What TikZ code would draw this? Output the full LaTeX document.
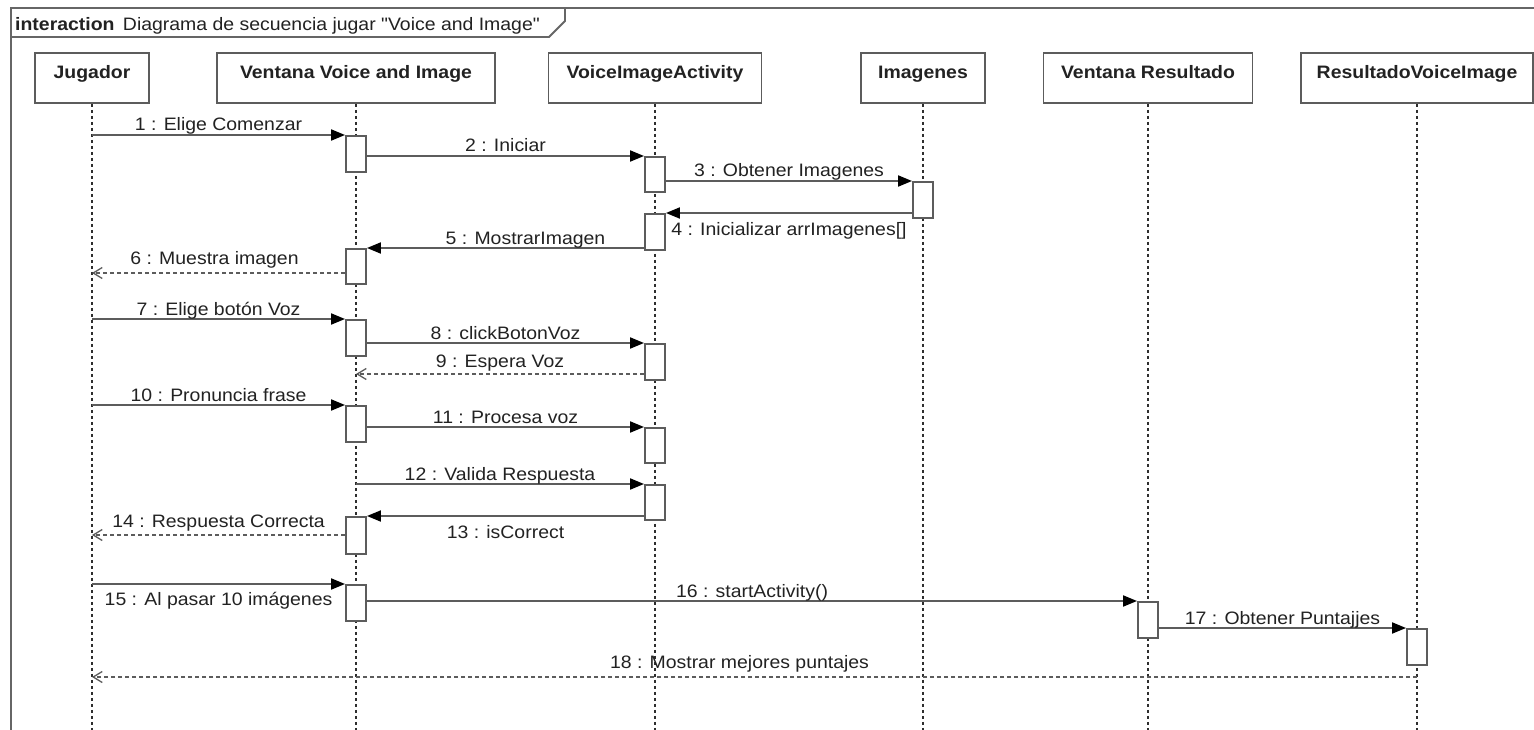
\documentclass[tikz,border=0pt]{standalone}
\usepackage{fontspec}
\setmainfont{Liberation Sans}[FakeStretch=1.08, Ligatures=TeXOff]
\usetikzlibrary{arrows.meta,calc}
\definecolor{linegray}{HTML}{5C5C5C}
\definecolor{textgray}{HTML}{222222}
\definecolor{lifegray}{HTML}{2E2E2E}
\definecolor{framegray}{HTML}{666666}

\begin{document}
\begin{tikzpicture}[x=1pt,y=-1pt,
  font=\fontsize{18}{21}\selectfont,
  every node/.style={text=textgray},
  head/.style={draw=linegray, line width=1.9pt, fill=white, inner xsep=0pt,
    inner ysep=7pt, text height=19pt, text depth=17pt,
    font=\fontsize{18}{21}\selectfont\bfseries},
  act/.style={draw=linegray, line width=1.9pt, fill=white, minimum width=20pt,
    inner sep=0pt, anchor=north},
  life/.style={draw=lifegray, line width=1.2pt, dash pattern=on 3pt off 3pt},
  call/.style={draw=linegray, line width=1.9pt,
    -{Triangle[length=14pt,width=11pt,color=black]}},
  reply/.style={draw=linegray, line width=1.6pt, dash pattern=on 4pt off 3pt,
    -{Straight Barb[length=9pt,width=11pt,line width=1.3pt]}},
  lbl/.style={anchor=base, inner sep=0pt},
  frameline/.style={draw=framegray, line width=1.9pt},
]
\useasboundingbox (0,0) rectangle (1534,730);
\clip (0,0) rectangle (1534,730);
\fill[white] (0,0) rectangle (1534,730);

% interaction frame and its name tab
\draw[frameline] (1545,8) -- (11,8) -- (11,745);
\draw[frameline] (11,37) -- (549,37) -- (565,21) -- (565,8);
\node[anchor=base west, inner sep=0pt] (title) at (15,31)
  {\textbf{interaction}\hspace{3pt} Diagrama de secuencia jugar "Voice and Image"};

% lifeline heads
\node[head, minimum width=114pt] (hJ) at (92,78) {Jugador};
\node[head, minimum width=278pt] (hV) at (356,78) {Ventana Voice and Image};
\node[head, minimum width=213pt] (hA) at (655,78) {VoiceImageActivity};
\node[head, minimum width=124pt] (hI) at (923,78) {Imagenes};
\node[head, minimum width=209pt] (hR) at (1148,78) {Ventana Resultado};
\node[head, minimum width=232pt] (hS) at (1417,78) {ResultadoVoiceImage};

\coordinate (bot) at (0,740);
\foreach \h in {hJ,hV,hA,hI,hR,hS}
  \draw[life] (\h.south) -- (\h.south |- bot);

% activation bars
\node[act, minimum height=36pt] (v1) at (356,135) {};
\node[act, minimum height=35pt] (a1) at (655,156) {};
\node[act, minimum height=36pt] (i1) at (923,181) {};
\node[act, minimum height=36pt] (a2) at (655,213) {};
\node[act, minimum height=35pt] (v2) at (356,248) {};
\node[act, minimum height=36pt] (v3) at (356,319) {};
\node[act, minimum height=36pt] (a3) at (655,343) {};
\node[act, minimum height=36pt] (v4) at (356,405) {};
\node[act, minimum height=35pt] (a4) at (655,427) {};
\node[act, minimum height=35pt] (a5) at (655,484) {};
\node[act, minimum height=37pt] (v5) at (356,516) {};
\node[act, minimum height=36pt] (v6) at (356,584) {};
\node[act, minimum height=36pt] (r1) at (1148,601) {};
\node[act, minimum height=36pt] (s1) at (1417,628) {};

% heights of the return messages
\coordinate (y6) at (0,273);
\coordinate (y9) at (0,374);
\coordinate (y14) at (0,535);
\coordinate (y18) at (0,677);

% messages
\draw[call] (hJ |- v1.north) -- (v1.north west)
  node[lbl, midway, yshift=4pt] {1 : Elige Comenzar};
\draw[call] (v1.east |- a1.north) -- (a1.north west)
  node[lbl, midway, yshift=4pt] {2 : Iniciar};
\draw[call] (a1.east |- i1.north) -- (i1.north west)
  node[lbl, midway, yshift=4pt] {3 : Obtener Imagenes};
\draw[call] (i1.west |- a2.north) -- (a2.north east)
  node[lbl, midway, yshift=-23pt] {4 : Inicializar arrImagenes[]};
\draw[call] (a2.west |- v2.north) -- (v2.north east)
  node[lbl, midway, xshift=20pt, yshift=4pt] {5 : MostrarImagen};
\draw[reply] (v2.west |- y6) -- (hJ |- y6)
  node[lbl, midway, xshift=-4pt, yshift=8pt] {6 : Muestra imagen};
\draw[call] (hJ |- v3.north) -- (v3.north west)
  node[lbl, midway, yshift=4pt] {7 : Elige botón Voz};
\draw[call] (v3.east |- a3.north) -- (a3.north west)
  node[lbl, midway, yshift=4pt] {8 : clickBotonVoz};
\draw[reply] (a3.west |- y9) -- (hV |- y9)
  node[lbl, midway, yshift=7pt] {9 : Espera Voz};
\draw[call] (hJ |- v4.north) -- (v4.north west)
  node[lbl, midway, yshift=4pt] {10 : Pronuncia frase};
\draw[call] (v4.east |- a4.north) -- (a4.north west)
  node[lbl, midway, yshift=4pt] {11 : Procesa voz};
\draw[call] (hV |- a5.north) -- (a5.north west)
  node[lbl, midway, yshift=4pt] {12 : Valida Respuesta};
\draw[call] (a5.west |- v5.north) -- (v5.north east)
  node[lbl, midway, yshift=-22pt] {13 : isCorrect};
\draw[reply] (v5.west |- y14) -- (hJ |- y14)
  node[lbl, midway, yshift=8pt] {14 : Respuesta Correcta};
\draw[call] (hJ |- v6.north) -- (v6.north west)
  node[lbl, midway, yshift=-21pt] {15 : Al pasar 10 imágenes};
\draw[call] (v6.east |- r1.north) -- (r1.north west)
  node[lbl, midway, yshift=4pt] {16 : startActivity()};
\draw[call] (r1.east |- s1.north) -- (s1.north west)
  node[lbl, midway, yshift=4pt] {17 : Obtener Puntajjes};
\draw[reply] (hS |- y18) -- (hJ |- y18)
  node[lbl, midway, xshift=-15pt, yshift=9pt] {18 : Mostrar mejores puntajes};
\end{tikzpicture}
\end{document}
